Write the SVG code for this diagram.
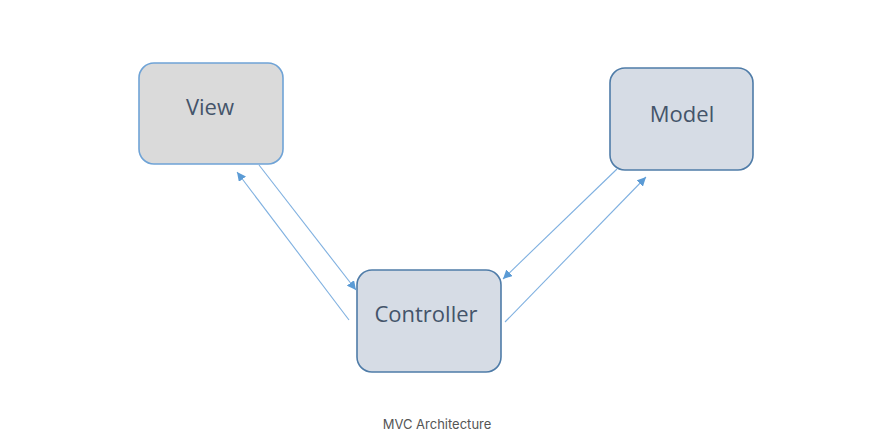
<svg xmlns="http://www.w3.org/2000/svg" width="875" height="438" viewBox="0 0 875 438">
<style>
.box{stroke-width:1.6}
.lbl{font-family:"Open Sans","Liberation Sans",sans-serif;font-size:22px;fill:#44546a;text-anchor:middle}
.conn{stroke:#7fb0e0;stroke-width:1.1;fill:none;marker-end:url(#ah)}
.cap{font-family:Inter,"Liberation Sans",sans-serif;font-size:13px;fill:#555;text-anchor:middle}
</style>
<defs>
<marker id="ah" viewBox="0 0 10 10" refX="10" refY="5" markerWidth="9" markerHeight="9" markerUnits="userSpaceOnUse" orient="auto">
<path d="M0,0 L10,5 L0,10 z" fill="#5b9bd5"/>
</marker>
</defs>
<rect width="875" height="438" fill="#fff"/>
<g id="view">
<rect class="box" x="139" y="63" width="144" height="101" rx="15" fill="#dadada" stroke="#6fa3d6"/>
<text class="lbl" x="210" y="115">View</text>
</g>
<g id="model">
<rect class="box" x="610" y="68" width="143" height="102" rx="15" fill="#d6dce5" stroke="#4f7ca8"/>
<text class="lbl" x="682" y="122">Model</text>
</g>
<g id="controller">
<rect class="box" x="357" y="270" width="144" height="102" rx="15" fill="#d6dce5" stroke="#4f7ca8"/>
<text class="lbl" x="426" y="322">Controller</text>
</g>
<g id="connectors">
<line class="conn" x1="259" y1="165" x2="356" y2="290"/>
<line class="conn" x1="349" y1="320" x2="237" y2="172"/>
<line class="conn" x1="617" y1="169" x2="503" y2="279"/>
<line class="conn" x1="505" y1="322" x2="646" y2="177"/>
</g>
<text class="cap" x="437" y="429">MVC Architecture</text>
</svg>
